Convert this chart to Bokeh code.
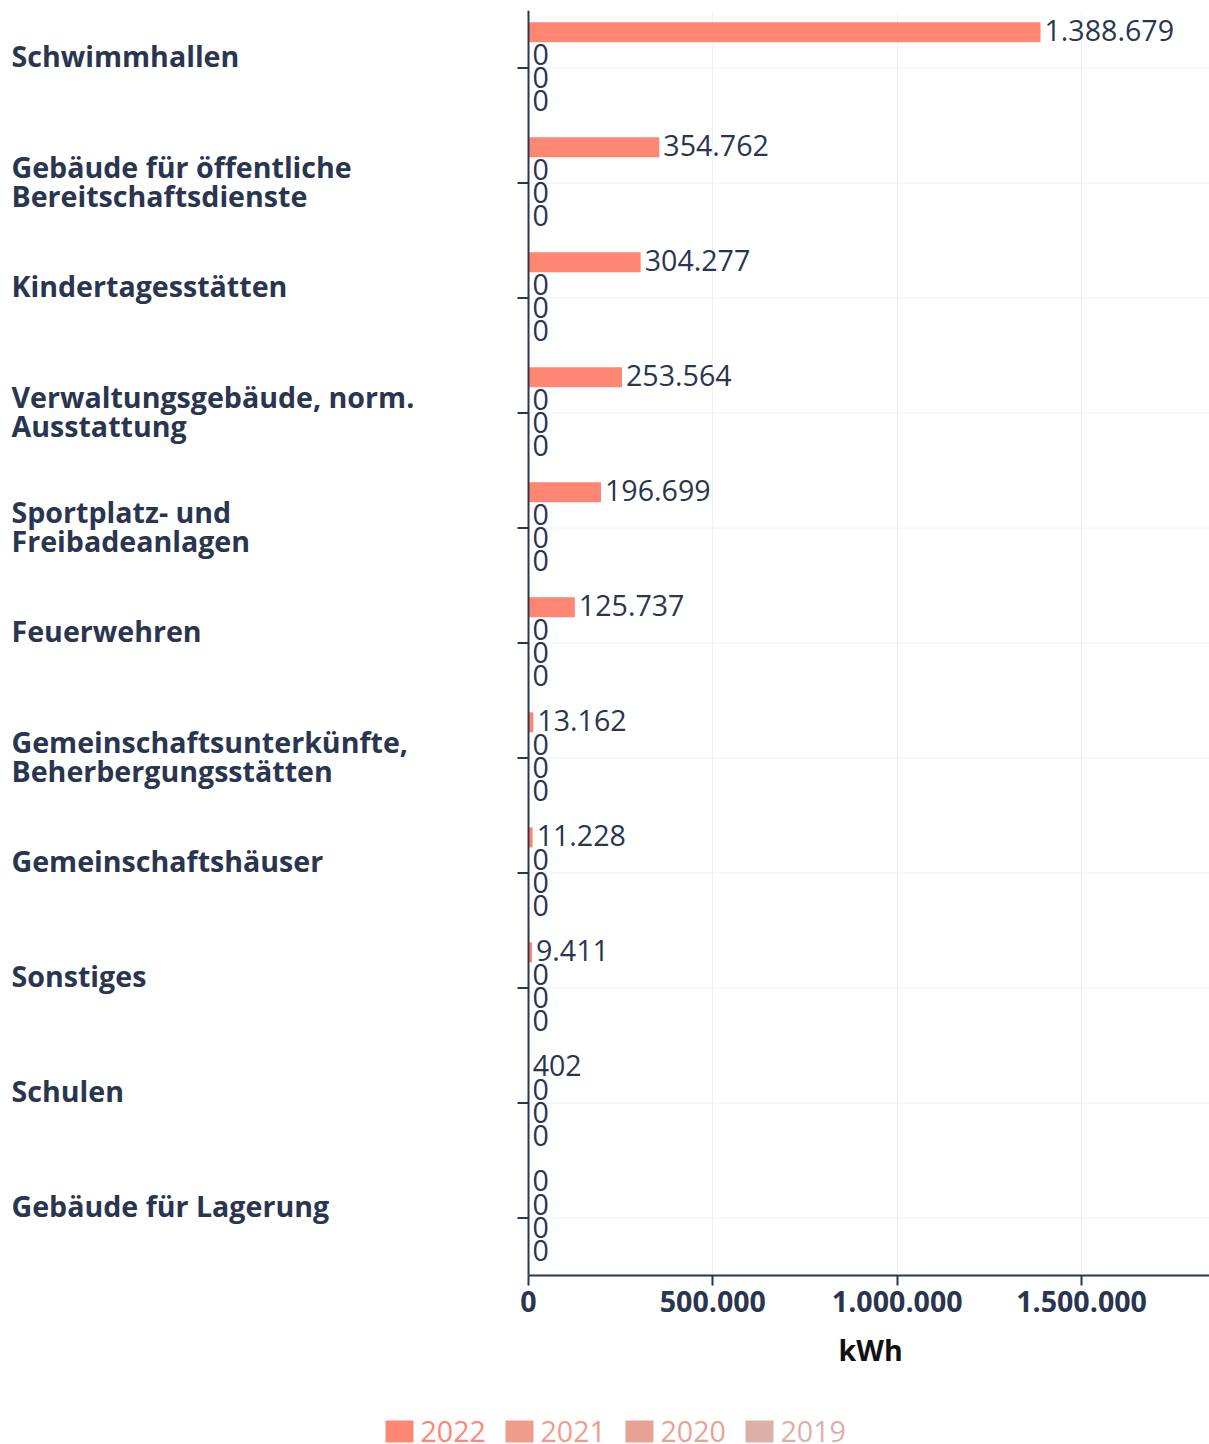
import math
from bokeh.plotting import figure
from bokeh.layouts import column, row
from bokeh.models import (FactorRange, Range1d, ColumnDataSource, SingleIntervalTicker,
                          CustomJSTickFormatter, Spacer, Span, Title)
from bokeh.transform import dodge
from bokeh.core.properties import value
from bokeh.embed import file_html
from bokeh.resources import INLINE

# ---------------- data ----------------
categories = [
    "Schwimmhallen",
    "Gebäude für öffentliche\nBereitschaftsdienste",
    "Kindertagesstätten",
    "Verwaltungsgebäude, norm.\nAusstattung",
    "Sportplatz- und\nFreibadeanlagen",
    "Feuerwehren",
    "Gemeinschaftsunterkünfte,\nBeherbergungsstätten",
    "Gemeinschaftshäuser",
    "Sonstiges",
    "Schulen",
    "Gebäude für Lagerung",
]
years = ["2022", "2021", "2020", "2019"]
values_2022 = [1388679, 354762, 304277, 253564, 196699, 125737, 13162, 11228, 9411, 402, 0]
values_2021 = [0, 0, 0, 0, 0, 0, 0, 0, 0, 0, 0]
values_2020 = [0, 0, 0, 0, 0, 0, 0, 0, 0, 0, 0]
values_2019 = [0, 0, 0, 0, 0, 0, 0, 0, 0, 0, 0]
series = [values_2022, values_2021, values_2020, values_2019]
x_tick_interval = 500000
x_axis_max = 1847000
x_axis_label = "kWh"

# ---------------- style ----------------
FONT = "Open Sans"
FS = "28.6px"
TXT = "#2a3550"
GRID = "#f0f0f0"
colors = ["#ff8672", "#f09c8d", "#e8a294", "#dcafa7"]
dodges = [0.31, 0.1, -0.1, -0.3]
FRAME_H = 1265
TOTAL_W = 1209
PLOT_LEFT_PX = 528          # pixel column where the value axis starts
TOP = 10

# label area to the left of zero, in data units (same scale as the plot area)
x_start = -x_axis_max * PLOT_LEFT_PX / (TOTAL_W - PLOT_LEFT_PX)


def fmt(v):
    return f"{v:,}".replace(",", ".")


y_range = FactorRange(factors=list(reversed(categories)))

p = figure(y_range=y_range, x_range=Range1d(x_start, x_axis_max),
           frame_width=TOTAL_W, frame_height=FRAME_H,
           min_border_left=0, min_border_right=0, min_border_top=TOP, min_border_bottom=0,
           output_backend="svg", toolbar_location=None)
p.outline_line_color = None
p.yaxis.visible = False
p.ygrid.grid_line_color = None

csrc = ColumnDataSource(dict(cat=categories,
                             zero=[0] * len(categories),
                             xmax=[x_axis_max] * len(categories),
                             xstart=[x_start] * len(categories),
                             yoff=[-2 if "\n" in c else -13 for c in categories]))

# horizontal grid lines (only in plot area)
p.segment(x0="zero", x1="xmax", y0="cat", y1="cat", line_color=GRID, line_width=1,
          source=csrc)
p.xgrid.grid_line_color = GRID
p.xgrid.bounds = (0, x_axis_max)

for yr, vals, col, dg in zip(years, series, colors, dodges):
    src = ColumnDataSource(dict(cat=categories, val=vals, label=[fmt(v) for v in vals]))
    p.hbar(y=dodge("cat", dg, range=y_range), left=0, right="val", height=0.174,
           fill_color=col, line_color=None, source=src)
    p.text(x="val", y=dodge("cat", dg, range=y_range), text="label", x_offset=4,
           y_offset=-2, text_baseline="middle", text_align="left",
           text_font=value(FONT), text_font_size=FS, text_color=TXT, source=src)

# category labels
p.text(x="xstart", y="cat", text="cat", x_offset=11, y_offset="yoff",
       text_baseline="middle", text_align="left", text_font=value(FONT),
       text_font_style="bold", text_font_size=FS, text_color=TXT,
       text_line_height=0.755, source=csrc)

# y axis line and ticks
p.add_layout(Span(location=0, dimension="height", line_color=TXT, line_width=2))
p.ray(x="zero", y="cat", length=11, angle=math.pi, length_units="screen",
      line_color=TXT, line_width=2, source=csrc)

# x axis
xa = p.xaxis[0]
xa.bounds = (0, x_axis_max)
xa.ticker = SingleIntervalTicker(interval=x_tick_interval)
xa.formatter = CustomJSTickFormatter(
    code="return Math.round(tick).toString().replace(/\\B(?=(\\d{3})+(?!\\d))/g, '.');")
xa.major_label_text_font = FONT
xa.major_label_text_font_style = "bold"
xa.major_label_text_font_size = FS
xa.major_label_text_color = TXT
xa.major_label_standoff = 5
xa.axis_line_color = TXT
xa.axis_line_width = 2
xa.major_tick_line_color = TXT
xa.major_tick_line_width = 2
xa.major_tick_out = 10
xa.major_tick_in = 0
xa.minor_tick_line_color = None

# axis title, placed under the middle of the value axis
p.add_layout(Title(text=x_axis_label, align="left", offset=838, standoff=27,
                   text_font=FONT, text_font_style="bold", text_font_size=FS,
                   text_color="#111111"), "below")

# ---------------- legend ----------------
leg = figure(x_range=FactorRange(factors=years), y_range=Range1d(-1, 1),
             frame_width=480, frame_height=40,
             min_border_left=0, min_border_right=0, min_border_top=0, min_border_bottom=0,
             output_backend="svg", toolbar_location=None)
leg.axis.visible = False
leg.grid.grid_line_color = None
leg.outline_line_color = None
gsrc = ColumnDataSource(dict(year=years, color=colors))
leg.rect(x=dodge("year", -0.3333, range=leg.x_range), y=0, width=28, height=22,
         width_units="screen", height_units="screen", fill_color="color",
         line_color=None, source=gsrc)
leg.text(x="year", y=0, text="year", x_offset=-19, text_baseline="middle",
         text_align="left", text_font=value(FONT), text_font_size=FS,
         text_color="color", source=gsrc)

layout = column(p, Spacer(height=29), row(Spacer(width=379), leg), spacing=0)

open("out.html", "w").write(file_html(layout, INLINE))
